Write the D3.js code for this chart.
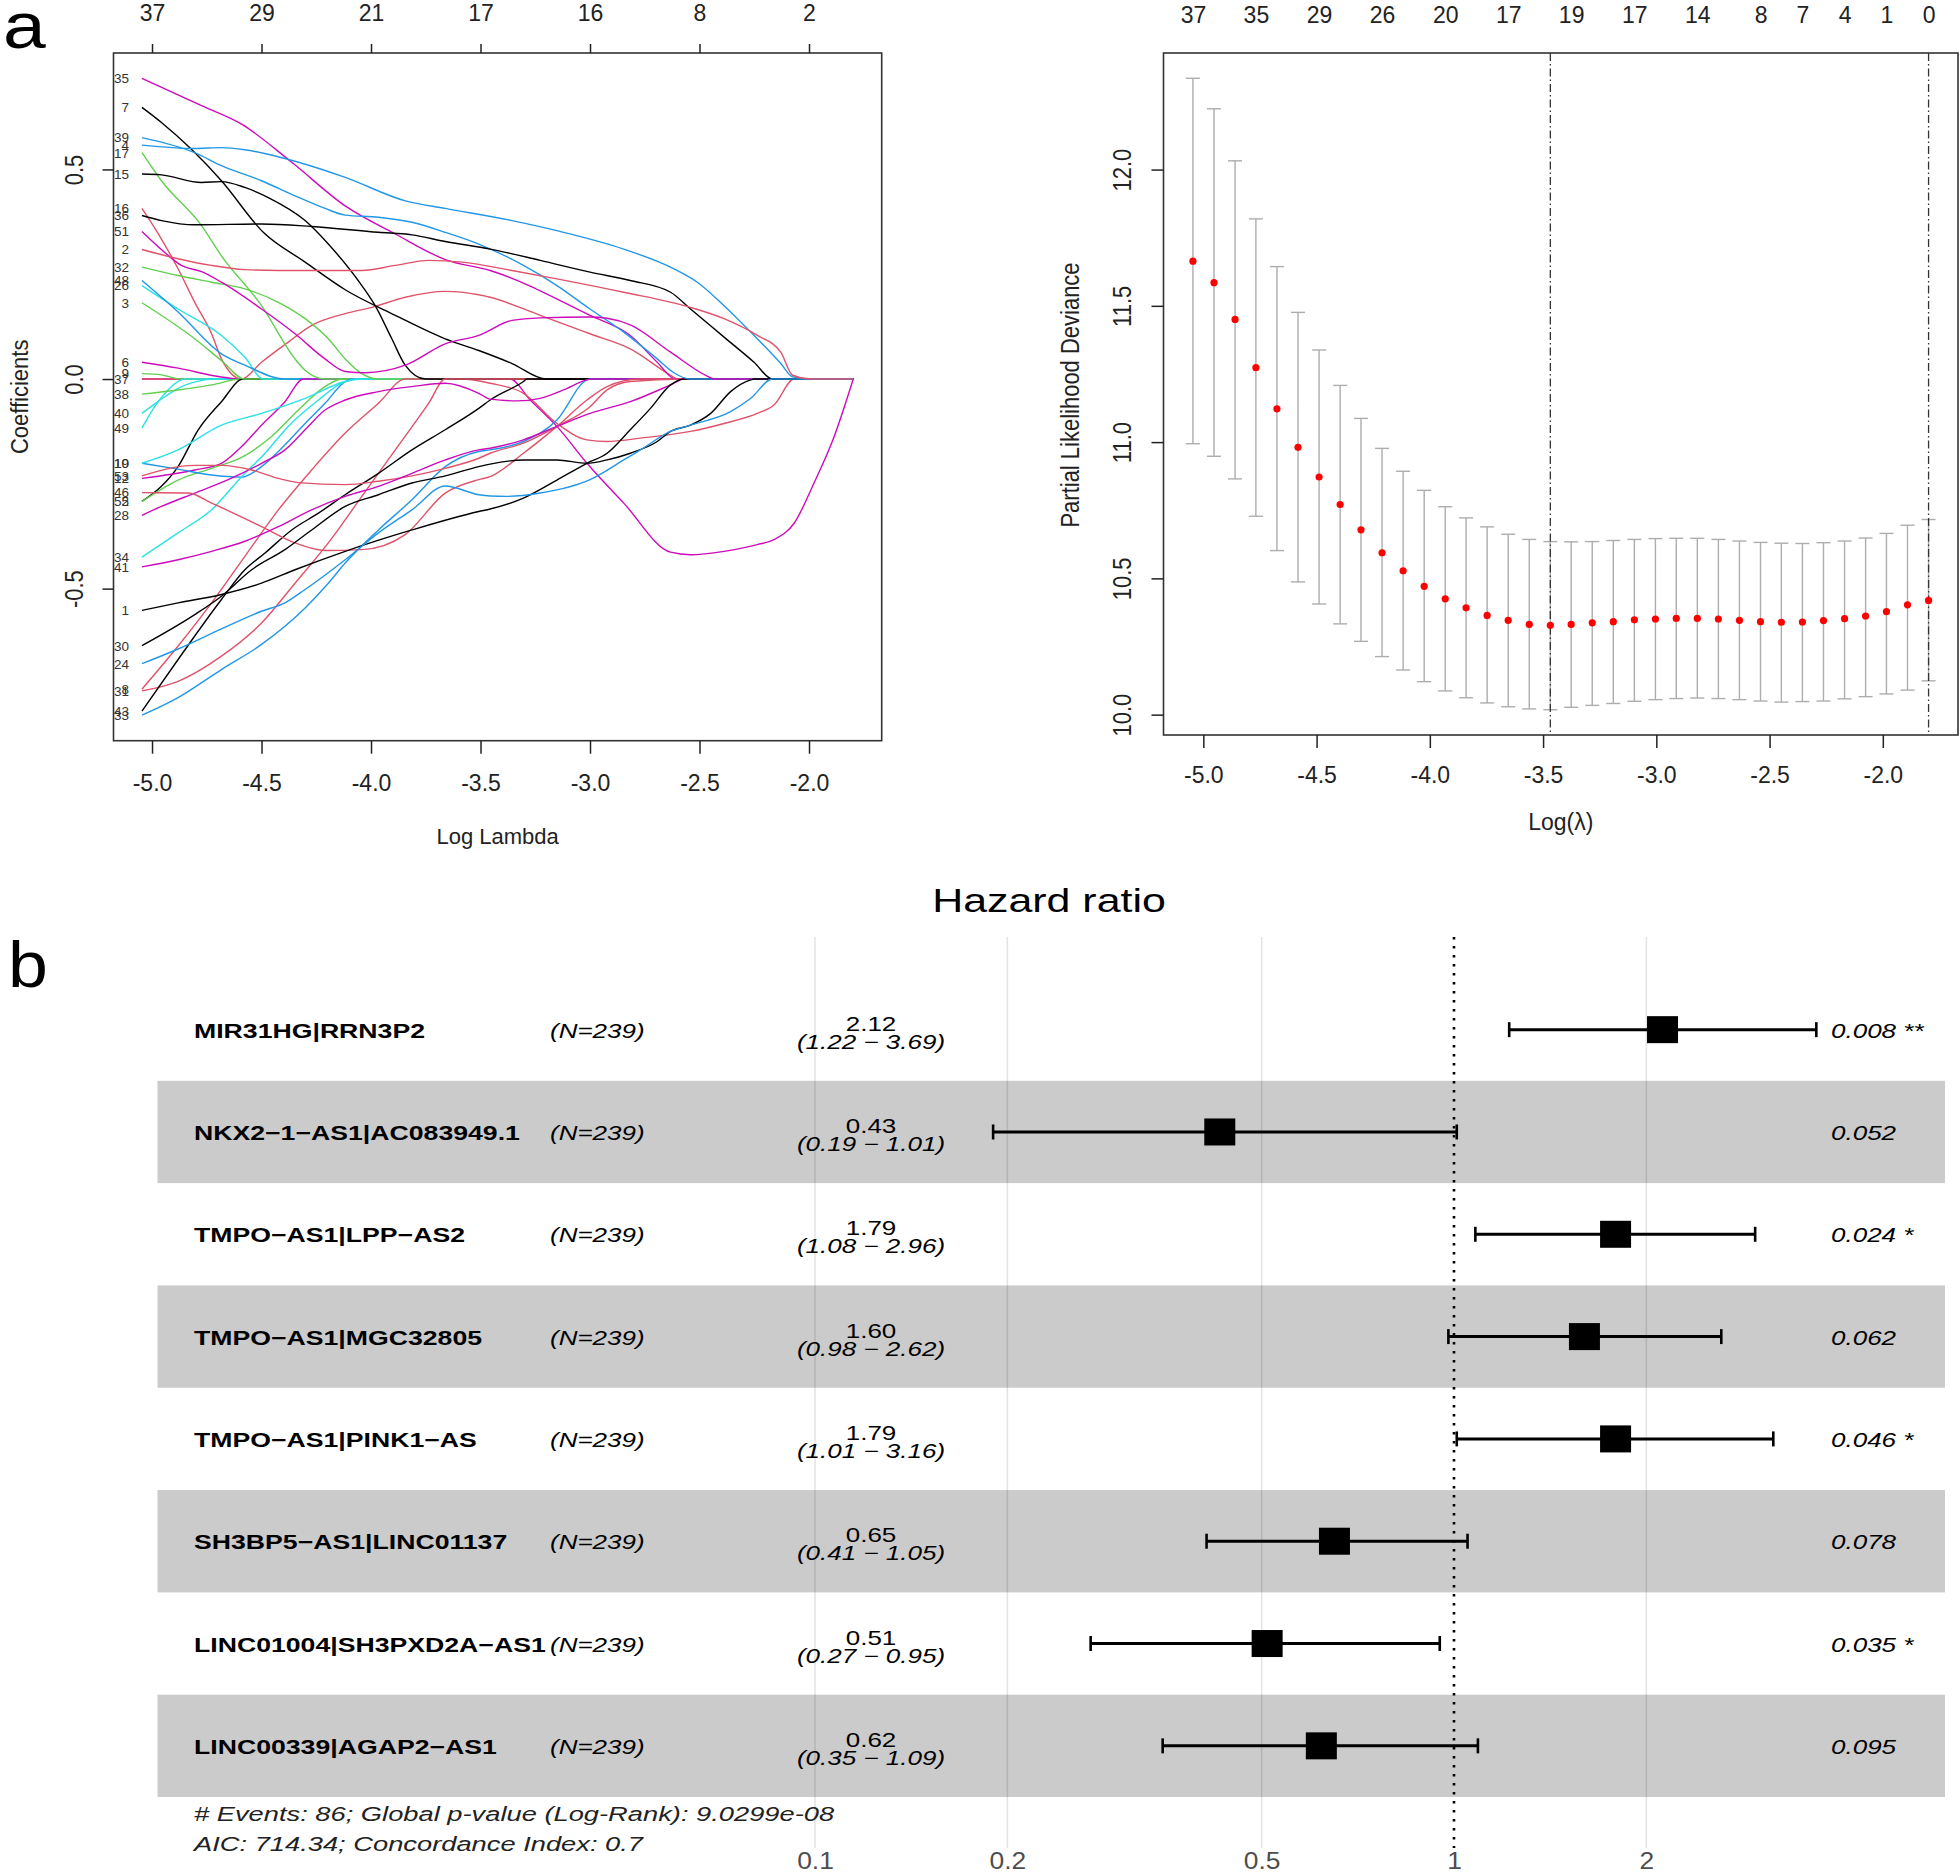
<!DOCTYPE html>
<html><head><meta charset="utf-8">
<script src="https://cdn.jsdelivr.net/npm/d3@7"></script>
<style>
html,body{margin:0;padding:0;background:#fff;}
svg{display:block;}
</style></head><body>
<svg id="chart" width="1960" height="1876"></svg>
<script>
// ================= DATA =================
// --- panel a (left): lasso coefficient paths ---
const pathXTicks = [-5.0,-4.5,-4.0,-3.5,-3.0,-2.5,-2.0];
const pathTopLabels = ["37","29","21","17","16","8","2"];
const pathYTicks = [-0.5,0.0,0.5];
const rPalette = ["#000000","#DF536B","#61D04F","#2297E6","#28E2E5","#CD0BBC"];
const coefLabels = ["35","7","39","4","17","15","16","36","51","2","32","48","26","3","6","9","37",
  "38","40","49","19","10","53","12","46","5","52","28","34","41","1","30","24","33","31","8","43","",""];
const coefColor = [5,0,3,3,2,0,1,0,5,1,2,3,4,2,5,2,1,
  2,4,4,4,3,1,5,1,2,0,5,4,5,0,0,3,3,1,1,0,5,1];
const coefValues = [
 [[-5.046,0.717],[-4.774,0.652],[-4.591,0.608],[-4.362,0.517],[-4.118,0.413],[-3.889,0.346],[-3.661,0.285],[-3.456,0.259],[-3.0,0.152],[-2.816,0.104],[-2.693,0.040],[-2.61,0]],
 [[-5.046,0.648],[-4.957,0.612],[-4.82,0.548],[-4.683,0.473],[-4.492,0.35],[-4.301,0.279],[-4.118,0.213],[-3.889,0.152],[-3.661,0.096],[-3.508,0.068],[-3.356,0.037],[-3.2,0]],
 [[-5.046,0.576],[-4.805,0.540],[-4.683,0.509],[-4.5,0.473],[-4.347,0.437],[-4.21,0.407],[-4.118,0.391],[-3.966,0.386],[-3.813,0.374],[-3.661,0.350],[-3.508,0.322],[-3.304,0.271],[-3.151,0.223],[-3.0,0.167],[-2.846,0.112],[-2.693,0.048],[-2.617,0.015],[-2.541,0]],
 [[-5.046,0.558],[-4.805,0.550],[-4.683,0.552],[-4.576,0.547],[-4.393,0.526],[-4.118,0.481],[-3.843,0.425],[-3.661,0.407],[-3.356,0.378],[-3.151,0.354],[-2.846,0.310],[-2.617,0.263],[-2.510,0.231],[-2.388,0.175],[-2.236,0.096],[-2.129,0.037],[-2.075,0.005],[-2.0,0]],
 [[-5.046,0.540],[-4.957,0.473],[-4.774,0.366],[-4.683,0.294],[-4.5,0.175],[-4.347,0.048],[-4.301,0.021],[-4.21,0]],
 [[-5.046,0.489],[-4.957,0.487],[-4.774,0.469],[-4.683,0.471],[-4.576,0.457],[-4.469,0.433],[-4.301,0.378],[-4.195,0.322],[-4.042,0.223],[-3.981,0.175],[-3.905,0.096],[-3.844,0.033],[-3.752,0]],
 [[-5.046,0.407],[-4.957,0.334],[-4.881,0.263],[-4.805,0.183],[-4.728,0.108],[-4.683,0.048],[-4.591,0]],
 [[-5.046,0.390],[-4.957,0.378],[-4.805,0.368],[-4.5,0.370],[-4.271,0.364],[-3.966,0.350],[-3.813,0.344],[-3.661,0.328],[-3.456,0.310],[-3.227,0.283],[-3.0,0.255],[-2.816,0.235],[-2.632,0.207],[-2.541,0.167],[-2.388,0.100],[-2.251,0.040],[-2.167,0]],
 [[-5.046,0.352],[-4.942,0.302],[-4.866,0.271],[-4.774,0.256],[-4.683,0.231],[-4.5,0.167],[-4.347,0.108],[-4.21,0.048],[-4.118,0.018],[-4.027,0.015],[-3.843,0.033],[-3.661,0.084],[-3.508,0.104],[-3.356,0.140],[-3.227,0.146],[-3.0,0.148],[-2.922,0.145],[-2.816,0.129],[-2.632,0.064],[-2.465,0.007],[-2.434,0]],
 [[-5.046,0.309],[-4.881,0.287],[-4.728,0.271],[-4.576,0.261],[-4.423,0.259],[-4.042,0.259],[-3.889,0.271],[-3.737,0.283],[-3.584,0.279],[-3.356,0.259],[-3.151,0.239],[-2.846,0.207],[-2.541,0.171],[-2.388,0.144],[-2.236,0.104],[-2.129,0.064],[-2.075,0.009],[-1.992,0]],
 [[-5.046,0.267],[-4.881,0.247],[-4.728,0.231],[-4.576,0.215],[-4.423,0.183],[-4.301,0.144],[-4.195,0.096],[-4.118,0.048],[-4.042,0.013],[-3.966,0]],
 [[-5.046,0.235],[-4.881,0.160],[-4.683,0.060],[-4.576,0.033],[-4.393,0]],
 [[-5.046,0.223],[-4.881,0.167],[-4.683,0.104],[-4.576,0.052],[-4.492,0]],
 [[-5.046,0.182],[-4.805,0.096],[-4.683,0.044],[-4.576,0]],
 [[-5.046,0.040],[-4.881,0.026],[-4.683,0.005],[-4.591,0]],
 [[-5.046,0.013],[-4.957,0.010],[-4.866,0]],
 [[-5.046,0],[-4.591,0],[-4.5,0.040],[-4.378,0.088],[-4.271,0.128],[-4.118,0.156],[-3.996,0.171],[-3.843,0.195],[-3.661,0.209],[-3.508,0.201],[-3.456,0.195],[-3.227,0.152],[-3.0,0.108],[-2.816,0.072],[-2.632,0.009],[-2.6,0]],
 [[-5.046,-0.036],[-4.881,-0.026],[-4.728,-0.014],[-4.591,0]],
 [[-5.046,-0.082],[-4.973,-0.054],[-4.881,-0.022],[-4.759,-0.002],[-4.728,0]],
 [[-5.046,-0.117],[-4.988,-0.066],[-4.927,-0.026],[-4.866,-0.002],[-4.85,0]],
 [[-5.046,-0.201],[-4.881,-0.169],[-4.683,-0.110],[-4.5,-0.082],[-4.301,-0.046],[-4.118,-0.006],[-4.057,0]],
 [[-5.046,-0.201],[-4.881,-0.215],[-4.728,-0.229],[-4.591,-0.234],[-4.5,-0.209],[-4.393,-0.157],[-4.301,-0.106],[-4.21,-0.058],[-4.118,-0.006],[-4.088,0]],
 [[-5.046,-0.231],[-4.805,-0.206],[-4.683,-0.206],[-4.545,-0.217],[-4.423,-0.237],[-4.332,-0.247],[-4.118,-0.252],[-3.966,-0.244],[-3.813,-0.231],[-3.661,-0.213],[-3.508,-0.189],[-3.456,-0.177],[-3.304,-0.153],[-3.151,-0.113],[-3.0,-0.066],[-2.922,-0.026],[-2.816,-0.006],[-2.571,0]],
 [[-5.046,-0.237],[-4.805,-0.217],[-4.683,-0.201],[-4.591,-0.161],[-4.5,-0.110],[-4.393,-0.054],[-4.309,0]],
 [[-5.046,-0.271],[-4.835,-0.272],[-4.728,-0.296],[-4.5,-0.352],[-4.347,-0.391],[-4.21,-0.409],[-4.042,-0.407],[-3.844,-0.371],[-3.661,-0.272],[-3.508,-0.240],[-3.456,-0.233],[-3.304,-0.177],[-3.151,-0.113],[-3.014,-0.050],[-2.922,-0.018],[-2.77,0]],
 [[-5.046,-0.292],[-4.881,-0.241],[-4.728,-0.213],[-4.591,-0.187],[-4.454,-0.137],[-4.332,-0.074],[-4.21,-0.018],[-4.133,0]],
 [[-5.046,-0.292],[-4.957,-0.256],[-4.881,-0.209],[-4.789,-0.121],[-4.683,-0.054],[-4.584,0]],
 [[-5.046,-0.325],[-4.957,-0.304],[-4.805,-0.272],[-4.652,-0.240],[-4.5,-0.201],[-4.393,-0.169],[-4.301,-0.121],[-4.21,-0.074],[-4.118,-0.050],[-3.966,-0.030],[-3.813,-0.018],[-3.661,-0.010],[-3.508,-0.034],[-3.456,-0.048],[-3.335,-0.052],[-3.227,-0.046],[-3.121,-0.026],[-3.014,-0.002],[-2.99,0]],
 [[-5.046,-0.425],[-4.881,-0.367],[-4.728,-0.312],[-4.591,-0.233],[-4.484,-0.177],[-4.378,-0.113],[-4.24,-0.050],[-4.133,-0.010],[-4.042,0]],
 [[-5.046,-0.448],[-4.881,-0.431],[-4.728,-0.411],[-4.576,-0.387],[-4.423,-0.352],[-4.271,-0.312],[-4.118,-0.280],[-3.966,-0.256],[-3.813,-0.225],[-3.661,-0.193],[-3.508,-0.169],[-3.456,-0.165],[-3.304,-0.145],[-3.151,-0.113],[-3.0,-0.082],[-2.816,-0.054],[-2.632,-0.014],[-2.571,0]],
 [[-5.046,-0.552],[-4.881,-0.534],[-4.683,-0.514],[-4.5,-0.487],[-4.347,-0.455],[-4.118,-0.411],[-3.813,-0.360],[-3.508,-0.316],[-3.456,-0.310],[-3.304,-0.284],[-3.151,-0.241],[-3.014,-0.201],[-2.922,-0.177],[-2.816,-0.121],[-2.724,-0.070],[-2.632,-0.014],[-2.571,0]],
 [[-5.046,-0.636],[-4.805,-0.562],[-4.683,-0.518],[-4.545,-0.455],[-4.393,-0.407],[-4.271,-0.360],[-4.118,-0.304],[-3.966,-0.276],[-3.813,-0.248],[-3.661,-0.231],[-3.508,-0.209],[-3.456,-0.203],[-3.304,-0.193],[-3.151,-0.193],[-3.014,-0.201],[-2.922,-0.193],[-2.816,-0.177],[-2.693,-0.149],[-2.632,-0.125],[-2.541,-0.110],[-2.449,-0.082],[-2.358,-0.030],[-2.266,-0.002],[-2.25,0]],
 [[-5.046,-0.679],[-4.881,-0.644],[-4.683,-0.596],[-4.5,-0.554],[-4.393,-0.534],[-4.301,-0.502],[-4.118,-0.431],[-3.966,-0.367],[-3.813,-0.312],[-3.661,-0.255],[-3.508,-0.276],[-3.456,-0.279],[-3.38,-0.280],[-3.227,-0.272],[-3.0,-0.240],[-2.846,-0.193],[-2.770,-0.169],[-2.632,-0.125],[-2.541,-0.110],[-2.358,-0.078],[-2.266,-0.046],[-2.167,0]],
 [[-5.046,-0.802],[-4.881,-0.760],[-4.683,-0.693],[-4.5,-0.633],[-4.301,-0.546],[-4.195,-0.487],[-4.118,-0.439],[-3.966,-0.360],[-3.813,-0.288],[-3.661,-0.209],[-3.508,-0.173],[-3.456,-0.169],[-3.304,-0.149],[-3.151,-0.098],[-3.014,-0.002],[-3.0,0]],
 [[-5.046,-0.744],[-4.881,-0.721],[-4.683,-0.661],[-4.5,-0.582],[-4.347,-0.487],[-4.195,-0.391],[-4.042,-0.280],[-3.889,-0.169],[-3.737,-0.058],[-3.661,0]],
 [[-5.046,-0.740],[-4.881,-0.637],[-4.728,-0.534],[-4.576,-0.423],[-4.423,-0.312],[-4.271,-0.217],[-4.118,-0.129],[-3.966,-0.058],[-3.844,0]],
 [[-5.046,-0.792],[-4.881,-0.669],[-4.683,-0.526],[-4.576,-0.455],[-4.484,-0.415],[-4.362,-0.360],[-4.24,-0.320],[-4.118,-0.276],[-3.966,-0.225],[-3.813,-0.169],[-3.661,-0.121],[-3.508,-0.070],[-3.456,-0.050],[-3.304,-0.006],[-3.288,0]],
 [[-5.046,0],[-3.365,0],[-3.273,-0.050],[-3.151,-0.113],[-3.014,-0.201],[-2.846,-0.296],[-2.632,-0.413],[-2.541,-0.419],[-2.388,-0.411],[-2.236,-0.395],[-2.160,-0.383],[-2.068,-0.344],[-1.977,-0.248],[-1.885,-0.137],[-1.798,0]],
 [[-5.046,0],[-3.584,0],[-3.456,-0.010],[-3.304,-0.034],[-3.151,-0.106],[-3.014,-0.145],[-2.922,-0.149],[-2.770,-0.141],[-2.541,-0.125],[-2.388,-0.106],[-2.236,-0.082],[-2.160,-0.062],[-2.068,0]]
];

// --- panel a (right): cross-validation curve ---
const cvLogLambda = [-5.046,-4.953,-4.860,-4.768,-4.675,-4.582,-4.489,-4.396,-4.304,-4.211,-4.118,-4.025,-3.932,-3.840,-3.747,-3.654,-3.561,-3.468,-3.376,-3.283,-3.190,-3.097,-3.004,-2.912,-2.819,-2.726,-2.633,-2.540,-2.448,-2.355,-2.262,-2.169,-2.076,-1.984,-1.891,-1.798];
const cvMean  = [11.664,11.585,11.450,11.273,11.122,10.981,10.872,10.771,10.678,10.594,10.528,10.471,10.425,10.392,10.364,10.346,10.331,10.328,10.331,10.337,10.341,10.348,10.351,10.353,10.353,10.351,10.346,10.341,10.339,10.340,10.345,10.352,10.362,10.378,10.403,10.419];
const cvUpper = [12.335,12.223,12.032,11.819,11.644,11.476,11.338,11.208,11.087,10.977,10.893,10.823,10.763,10.722,10.689,10.662,10.643,10.635,10.634,10.635,10.639,10.643,10.646,10.647,10.647,10.643,10.637,10.632,10.629,10.628,10.631,10.637,10.648,10.665,10.695,10.716];
const cvLower = [10.994,10.948,10.865,10.728,10.602,10.487,10.406,10.333,10.269,10.213,10.164,10.121,10.087,10.062,10.043,10.029,10.021,10.018,10.027,10.034,10.041,10.049,10.055,10.059,10.061,10.059,10.055,10.050,10.046,10.048,10.050,10.058,10.066,10.076,10.090,10.124];
const cvTopAt = [-5.046,-4.768,-4.489,-4.211,-3.932,-3.654,-3.376,-3.097,-2.819,-2.540,-2.355,-2.169,-1.984,-1.798];
const cvTopLabels = ["37","35","29","26","20","17","19","17","14","8","7","4","1","0"];
const cvXTicks = [-5.0,-4.5,-4.0,-3.5,-3.0,-2.5,-2.0];
const cvYTicks = [10.0,10.5,11.0,11.5,12.0];
const lambdaMinLog = -3.468;
const lambda1seLog = -1.798;

// --- panel b: forest plot ---
const fpGenes = ["MIR31HG|RRN3P2","NKX2-1-AS1|AC083949.1","TMPO-AS1|LPP-AS2","TMPO-AS1|MGC32805",
  "TMPO-AS1|PINK1-AS","SH3BP5-AS1|LINC01137","LINC01004|SH3PXD2A-AS1","LINC00339|AGAP2-AS1"];
const fpN    = [239,239,239,239,239,239,239,239];
const fpHR   = [2.12,0.43,1.79,1.60,1.79,0.65,0.51,0.62];
const fpLow  = [1.22,0.19,1.08,0.98,1.01,0.41,0.27,0.35];
const fpHigh = [3.69,1.01,2.96,2.62,3.16,1.05,0.95,1.09];
const fpP    = ["0.008","0.052","0.024","0.062","0.046","0.078","0.035","0.095"];
const fpStars= ["**","","*","","*","","*",""];
const fpTicks = [0.1,0.2,0.5,1,2];
const fpFooter = ["# Events: 86; Global p-value (Log-Rank): 9.0299e-08","AIC: 714.34; Concordance Index: 0.7"];

// ================= DRAWING =================
const FONT = '"Liberation Sans", Arial, Helvetica, sans-serif';
const svg = d3.select("#chart").attr("font-family", FONT);
svg.append("rect").attr("width",1960).attr("height",1876).attr("fill","#fff");
const MINUS = s => s.replace(/-/g, "\u2212");

function stext(parent, x, y, str, o) {
  o = o || {};
  const tr = `translate(${x},${y})` + ` scale(${o.sx || 1},1)` + (o.rot ? ` rotate(${o.rot})` : "");
  return parent.append("text").attr("transform", tr)
    .attr("text-anchor", o.anchor || "start")
    .attr("font-size", o.size || 20)
    .attr("font-weight", o.weight || "normal")
    .attr("font-style", o.style || "normal")
    .attr("fill", o.fill || "#000")
    .text(str);
}

// shared lambda domain (R style 4% expansion)
const lamExt = d3.extent(cvLogLambda);
const lamPad = (lamExt[1] - lamExt[0]) * 0.04;
const lamDom = [lamExt[0] - lamPad, lamExt[1] + lamPad];

// ---------- Panel a-left ----------
const A = {l:113.5, r:881.7, t:53, b:740.7};
const xA = d3.scaleLinear().domain(lamDom).range([A.l, A.r]);
const cAll = coefValues.flat().map(d => d[1]);
const cExt = d3.extent(cAll);
const cPad = (cExt[1] - cExt[0]) * 0.04;
const yA = d3.scaleLinear().domain([cExt[0] - cPad, cExt[1] + cPad]).range([A.b, A.t]);
const gA = svg.append("g");

const lineA = d3.line().x(d => xA(d[0])).y(d => yA(d[1])).curve(d3.curveMonotoneX);
// draw order: paths that start at zero first, then by the lambda at which they reach zero
const sortKey = i => coefValues[i][0][1] === 0 ? -Infinity : coefValues[i][coefValues[i].length - 1][0];
const order = d3.range(coefValues.length).sort((a, b) => sortKey(a) - sortKey(b));
order.forEach(i => {
  const pts = coefValues[i].slice();
  const last = pts[pts.length - 1];
  if (last[0] < lamExt[1] - 1e-6) pts.push([lamExt[1], 0]);
  gA.append("path").attr("d", lineA(pts)).attr("fill", "none")
    .attr("stroke", rPalette[coefColor[i]]).attr("stroke-width", 1.4)
    .attr("stroke-linejoin", "round");
});
coefLabels.forEach((lab, i) => {
  if (!lab) return;
  const p = coefValues[i][0];
  gA.append("text").attr("x", xA(p[0]) - 13).attr("y", yA(p[1])).attr("dy", "0.36em")
    .attr("text-anchor", "end").attr("font-size", 13.5).attr("fill", "#333").text(lab);
});
gA.append("rect").attr("x", A.l).attr("y", A.t).attr("width", A.r - A.l).attr("height", A.b - A.t)
  .attr("fill", "none").attr("stroke", "#333").attr("stroke-width", 1.6);

function styleAxis(g, size) {
  g.attr("font-family", FONT).attr("font-size", size).attr("color", "#222");
  g.select(".domain").remove();
  g.selectAll(".tick line").attr("stroke-width", 1.5);
}
gA.append("g").attr("transform", `translate(0,${A.b})`)
  .call(d3.axisBottom(xA).tickValues(pathXTicks).tickSize(13).tickPadding(21).tickFormat(d => d.toFixed(1)))
  .call(g => styleAxis(g, 23));
gA.append("g").attr("transform", `translate(0,${A.t})`)
  .call(d3.axisTop(xA).tickValues(pathXTicks).tickSize(9).tickPadding(23).tickFormat((d, i) => pathTopLabels[i]))
  .call(g => styleAxis(g, 23));
gA.append("g").attr("transform", `translate(${A.l},0)`)
  .call(d3.axisLeft(yA).tickValues(pathYTicks).tickSize(11).tickFormat(d => d.toFixed(1)))
  .call(g => styleAxis(g, 22))
  .call(g => g.selectAll(".tick text").attr("x", 0).attr("y", 0).attr("dy", null)
    .attr("text-anchor", "middle").attr("transform", "translate(-30.5,0) scale(1.15,1) rotate(-90)"));
stext(gA, (A.l + A.r) / 2, 844, "Log Lambda", {anchor: "middle", size: 22, fill: "#222"});
stext(gA, 28, (A.t + A.b) / 2, "Coefficients", {anchor: "middle", size: 22, rot: -90, sx: 1.1, fill: "#222"});

// ---------- Panel a-right ----------
const B = {l:1163.5, r:1958, t:53, b:735};
const xB = d3.scaleLinear().domain(lamDom).range([B.l, B.r]);
const dExt = [d3.min(cvLower), d3.max(cvUpper)];
const dPad = (dExt[1] - dExt[0]) * 0.04;
const yB = d3.scaleLinear().domain([dExt[0] - dPad, dExt[1] + dPad]).range([B.b, B.t]);
const gB = svg.append("g");
const capW = 7;
cvLogLambda.forEach((L, i) => {
  const x = xB(L);
  gB.append("line").attr("x1", x).attr("x2", x).attr("y1", yB(cvLower[i])).attr("y2", yB(cvUpper[i]))
    .attr("stroke", "#ADADAD").attr("stroke-width", 1.4);
  [cvLower[i], cvUpper[i]].forEach(v => gB.append("line").attr("x1", x - capW).attr("x2", x + capW)
    .attr("y1", yB(v)).attr("y2", yB(v)).attr("stroke", "#ADADAD").attr("stroke-width", 1.4));
});
[lambdaMinLog, lambda1seLog].forEach(L => gB.append("line").attr("x1", xB(L)).attr("x2", xB(L))
  .attr("y1", B.t).attr("y2", B.b).attr("stroke", "#333").attr("stroke-width", 1.3)
  .attr("stroke-dasharray", "8,3,1.5,3"));
gB.selectAll("circle.cv").data(cvLogLambda).join("circle").attr("class", "cv")
  .attr("cx", d => xB(d)).attr("cy", (d, i) => yB(cvMean[i])).attr("r", 3.6).attr("fill", "#F00");
gB.append("rect").attr("x", B.l).attr("y", B.t).attr("width", B.r - B.l).attr("height", B.b - B.t)
  .attr("fill", "none").attr("stroke", "#333").attr("stroke-width", 1.6);
gB.append("g").attr("transform", `translate(0,${B.b})`)
  .call(d3.axisBottom(xB).tickValues(cvXTicks).tickSize(13).tickPadding(19).tickFormat(d => d.toFixed(1)))
  .call(g => styleAxis(g, 23));
gB.append("g").attr("transform", `translate(0,${B.t})`)
  .call(d3.axisTop(xB).tickValues(cvTopAt).tickSize(0).tickPadding(30).tickFormat((d, i) => cvTopLabels[i]))
  .call(g => styleAxis(g, 23));
gB.append("g").attr("transform", `translate(${B.l},0)`)
  .call(d3.axisLeft(yB).tickValues(cvYTicks).tickSize(12).tickFormat(d => d.toFixed(1)))
  .call(g => styleAxis(g, 22))
  .call(g => g.selectAll(".tick text").attr("x", 0).attr("y", 0).attr("dy", null)
    .attr("text-anchor", "middle").attr("transform", "translate(-32.5,0) scale(1.15,1) rotate(-90)"));
stext(gB, (B.l + B.r) / 2, 830, "Log(\u03BB)", {anchor: "middle", size: 23, fill: "#222"});
stext(gB, 1079, 395, "Partial Likelihood Deviance", {anchor: "middle", size: 22, rot: -90, sx: 1.15, fill: "#222"});

// panel letters
stext(svg, 3, 48, "a", {size: 64, sx: 1.2});
stext(svg, 8, 987, "b", {size: 64, sx: 1.12});

// ---------- Panel b: forest ----------
const SX = 1.3;
const gF = svg.append("g");
const xF = d3.scaleLog().domain([0.1, 1]).range([815, 1454]);
const yF = d3.scaleBand().domain(d3.range(fpGenes.length)).range([978.5, 1797]).paddingInner(0);
const band = {l:157.5, r:1945};
const gridTop = 937, gridBot = 1848;

fpGenes.forEach((g, i) => {
  if (i % 2 === 1) gF.append("rect").attr("x", band.l).attr("y", yF(i)).attr("width", band.r - band.l)
    .attr("height", yF.bandwidth()).attr("fill", "#CBCBCB");
});
fpTicks.filter(t => t !== 1).forEach(t => gF.append("line").attr("x1", xF(t)).attr("x2", xF(t))
  .attr("y1", gridTop).attr("y2", gridBot).attr("stroke", "rgba(0,0,0,0.11)").attr("stroke-width", 1.5));
gF.append("line").attr("x1", xF(1)).attr("x2", xF(1)).attr("y1", gridTop).attr("y2", gridBot)
  .attr("stroke", "#000").attr("stroke-width", 2.6).attr("stroke-dasharray", "2.5,6.5");

fpGenes.forEach((g, i) => {
  const cy = yF(i) + yF.bandwidth() / 2;
  const x0 = xF(fpLow[i]), x1 = xF(fpHigh[i]), xm = xF(fpHR[i]);
  gF.append("line").attr("x1", x0).attr("x2", x1).attr("y1", cy).attr("y2", cy)
    .attr("stroke", "#000").attr("stroke-width", 3);
  [x0, x1].forEach(x => gF.append("line").attr("x1", x).attr("x2", x).attr("y1", cy - 7.5).attr("y2", cy + 7.5)
    .attr("stroke", "#000").attr("stroke-width", 2.6));
  gF.append("rect").attr("x", xm - 15.5).attr("y", cy - 13.5).attr("width", 31).attr("height", 27).attr("fill", "#000");

  stext(gF, 194, cy + 8, MINUS(g), {size: 20.5, weight: "bold", sx: SX});
  stext(gF, 550, cy + 8, `(N=${fpN[i]})`, {size: 20, style: "italic", sx: SX});
  stext(gF, 871, cy + 1, fpHR[i].toFixed(2), {size: 20, anchor: "middle", sx: SX});
  stext(gF, 871, cy + 19, `(${fpLow[i].toFixed(2)} \u2212 ${fpHigh[i].toFixed(2)})`, {size: 20, style: "italic", anchor: "middle", sx: SX});
  stext(gF, 1831, cy + 8, fpP[i] + (fpStars[i] ? " " + fpStars[i] : ""), {size: 20, style: "italic", sx: SX});
});

stext(gF, 1049, 912, "Hazard ratio", {size: 33, anchor: "middle", sx: SX});
stext(gF, 194, 1821, fpFooter[0], {size: 21, style: "italic", sx: SX, fill: "#222"});
stext(gF, 194, 1851, fpFooter[1], {size: 21, style: "italic", sx: SX, fill: "#222"});

gF.append("g").attr("transform", `translate(0,1848)`)
  .call(d3.axisBottom(xF).tickValues(fpTicks).tickSize(0).tickPadding(4).tickFormat(d => String(d)))
  .call(g => { g.attr("font-family", FONT).attr("font-size", 24).attr("color", "#4D4D4D");
               g.select(".domain").remove();
               g.selectAll(".tick text").attr("transform", `scale(1.1,1)`); });
</script></body></html>
